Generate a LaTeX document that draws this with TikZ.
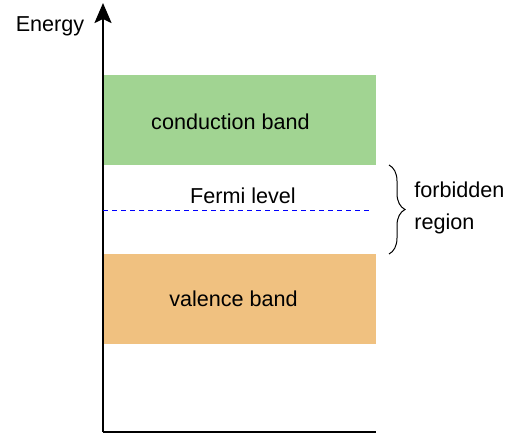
\documentclass[tikz,border=0pt]{standalone}
\usepackage{fontspec}
\setmainfont{Liberation Sans}
\usepackage{tikz}
\usetikzlibrary{positioning, arrows.meta, decorations.pathreplacing}
\definecolor{bandgreen}{RGB}{161,212,146}
\definecolor{bandorange}{RGB}{240,193,128}
\tikzstyle{band}=[%
      rectangle, draw=none, inner sep=0pt,
      minimum width=136pt, minimum height=45pt
]
\tikzstyle{lbl}=[%
      inner sep=0pt, align=left
]
\tikzstyle{axis}=[%
      line width=1.1pt, black
]

\begin{document}
\begin{tikzpicture}[x=0.5pt, y=-0.5pt,
    font=\fontsize{10.8}{16}\selectfont
  ]
    \useasboundingbox (0,0) rectangle (518,433);

    \node[band, fill=bandgreen,
          label={[lbl, xshift=-4.75pt, yshift=-1pt]center:conduction band}]  (cond) at (240,120) {};
    \node[band, fill=bandorange,
          label={[lbl, xshift=-3.25pt]center:valence band}]     (val)  at (240,299) {};
    \node[lbl]                   (fermi) at (243,196) {Fermi level};
    \node[lbl]                   (energy) at (50,26) {Energy};
    \node[lbl, anchor=west]      (forb) at (414,208) {forbidden\\region};

    \coordinate (origin) at (103,432);
    \coordinate (ytop)   at (103,3);
    \coordinate (xend)   at (376,432);
    \coordinate (ef0)    at (103,210);
    \coordinate (ef1)    at (372,210);
    \coordinate (gaptop) at (389,165);
    \coordinate (gapbot) at (389,254);

    \draw[axis, -{Stealth[length=10pt, width=8.5pt, inset=2pt]}] (origin) -- (ytop);
    \draw[axis] (origin) -- (xend);
    \draw[blue, line width=0.5pt, dash pattern=on 2.5pt off 2pt] (ef0) -- (ef1);
    \draw[line width=0.5pt, decorate, decoration={brace, amplitude=8pt}] (gaptop) -- (gapbot);

  \end{tikzpicture}
\end{document}
